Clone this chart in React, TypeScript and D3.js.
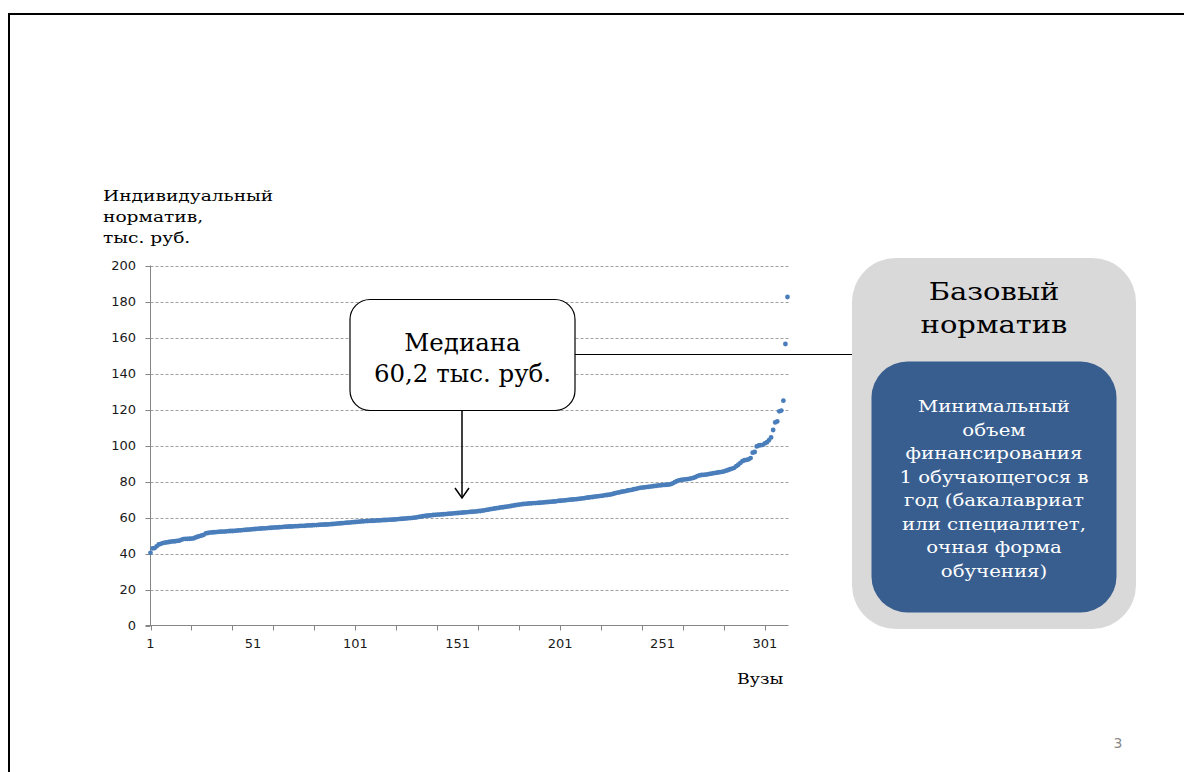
import React from "react";
import * as d3 from "d3";

// Sorted individual normatives (thousand rub.) for 312 universities
const values: number[] = [
  40.4, 42.8, 43.0, 44.0, 45.0, 45.4, 45.8, 46.0, 46.2, 46.4,
  46.6, 46.7, 46.8, 47.0, 47.1, 47.6, 48.0, 48.1, 48.1, 48.2,
  48.3, 48.4, 48.9, 49.3, 49.7, 50.0, 50.4, 51.2, 51.4, 51.6,
  51.7, 51.8, 51.9, 52.0, 52.1, 52.2, 52.2, 52.3, 52.4, 52.5,
  52.5, 52.6, 52.7, 52.8, 52.9, 53.0, 53.1, 53.2, 53.3, 53.4,
  53.5, 53.6, 53.7, 53.8, 53.9, 54.0, 54.0, 54.1, 54.2, 54.3,
  54.4, 54.5, 54.5, 54.6, 54.7, 54.8, 54.9, 54.9, 55.0, 55.0,
  55.1, 55.2, 55.2, 55.3, 55.4, 55.4, 55.5, 55.6, 55.6, 55.7,
  55.8, 55.8, 55.9, 56.0, 56.0, 56.1, 56.1, 56.2, 56.3, 56.4,
  56.5, 56.6, 56.7, 56.8, 56.9, 57.0, 57.1, 57.2, 57.3, 57.4,
  57.5, 57.6, 57.7, 57.8, 57.9, 58.0, 58.0, 58.1, 58.2, 58.2,
  58.3, 58.4, 58.4, 58.5, 58.6, 58.6, 58.7, 58.8, 58.8, 58.9,
  59.0, 59.1, 59.2, 59.3, 59.4, 59.5, 59.6, 59.7, 59.8, 59.9,
  60.1, 60.3, 60.5, 60.7, 60.9, 61.0, 61.1, 61.2, 61.4, 61.5,
  61.6, 61.6, 61.7, 61.8, 61.9, 62.0, 62.1, 62.2, 62.3, 62.4,
  62.5, 62.6, 62.7, 62.8, 62.9, 63.0, 63.1, 63.2, 63.3, 63.4,
  63.5, 63.6, 63.8, 64.0, 64.2, 64.4, 64.6, 64.8, 65.0, 65.2,
  65.4, 65.6, 65.7, 65.9, 66.0, 66.2, 66.4, 66.6, 66.8, 67.0,
  67.2, 67.3, 67.5, 67.6, 67.7, 67.8, 67.9, 68.0, 68.0, 68.1,
  68.2, 68.3, 68.4, 68.5, 68.6, 68.7, 68.8, 68.9, 69.0, 69.2,
  69.3, 69.4, 69.5, 69.6, 69.8, 69.9, 70.0, 70.1, 70.2, 70.3,
  70.5, 70.6, 70.8, 71.0, 71.1, 71.3, 71.4, 71.6, 71.7, 71.9,
  72.0, 72.2, 72.4, 72.5, 72.7, 72.9, 73.2, 73.5, 73.8, 74.0,
  74.3, 74.5, 74.7, 75.0, 75.2, 75.4, 75.7, 75.9, 76.2, 76.5,
  76.6, 76.7, 76.9, 77.0, 77.2, 77.3, 77.5, 77.6, 77.8, 77.9,
  78.0, 78.1, 78.2, 78.3, 78.5, 79.0, 79.6, 80.2, 80.6, 80.9,
  81.0, 81.2, 81.3, 81.5, 81.7, 82.0, 82.4, 83.0, 83.4, 83.6,
  83.7, 83.8, 84.0, 84.2, 84.4, 84.6, 84.8, 85.0, 85.2, 85.4,
  85.6, 86.0, 86.4, 86.8, 87.2, 87.6, 88.5, 89.3, 90.3, 91.3,
  91.8, 92.0, 92.3, 93.0, 96.0, 96.4, 99.5, 100.0, 100.2, 100.4,
  101.2, 101.8, 103.0, 104.5, 108.6, 112.8, 113.4, 119.0, 119.4, 124.9,
  156.4, 182.5,
];

const yTicks: number[] = [0, 20, 40, 60, 80, 100, 120, 140, 160, 180, 200];
const xLabels: number[] = [1, 51, 101, 151, 201, 251, 301];
const xTickMarks: number[] = [1, 21, 41, 61, 81, 101, 121, 141, 161, 181, 201, 221, 241, 261, 281, 301];

const yTitle: string[] = ["Индивидуальный", "норматив,", "тыс. руб."];
const xTitle = "Вузы";
const medianLines: string[] = ["Медиана", "60,2 тыс. руб."];
const baseTitle: string[] = ["Базовый", "норматив"];
const baseText: string[] = [
  "Минимальный",
  "объем",
  "финансирования",
  "1 обучающегося в",
  "год (бакалавриат",
  "или специалитет,",
  "очная форма",
  "обучения)",
];
const pageNumber = "3";

const SERIF = "'DejaVu Serif', serif";
const SANS = "'DejaVu Sans', sans-serif";

export default function App() {
  const x = d3.scaleLinear().domain([1, 312.5]).range([150.5, 788.5]);
  const y = d3.scaleLinear().domain([0, 200]).range([625.5, 265.5]);
  const axisColor = "#868686";

  return (
    <svg
      width={1184}
      height={772}
      style={{ position: "absolute", left: 0, top: 0, background: "#fff" }}
    >
      {/* slide border */}
      <line x1={8} y1={14} x2={1184} y2={14} stroke="#000" strokeWidth={2} />
      <line x1={9} y1={13} x2={9} y2={772} stroke="#000" strokeWidth={2} />

      {/* gridlines */}
      {yTicks.filter((t) => t > 0).map((t) => (
        <line
          key={"g" + t}
          x1={x(1)}
          x2={x(312.5)}
          y1={Math.round(y(t)) + 0.5}
          y2={Math.round(y(t)) + 0.5}
          stroke="#a0a0a0"
          strokeWidth={1}
          strokeDasharray="3,2"
        />
      ))}

      {/* y axis */}
      <line x1={x(1)} x2={x(1)} y1={y(200)} y2={y(0)} stroke={axisColor} strokeWidth={1} />
      {yTicks.map((t) => (
        <g key={"yt" + t}>
          <line
            x1={x(1) - 5}
            x2={x(1)}
            y1={Math.round(y(t)) + 0.5}
            y2={Math.round(y(t)) + 0.5}
            stroke={axisColor}
          />
          <text
            x={136}
            y={y(t) + 4.5}
            textAnchor="end"
            fontFamily={SANS}
            fontSize={13}
            fill="#1a1a1a"
          >
            {t}
          </text>
        </g>
      ))}

      {/* x axis */}
      <line x1={x(1) - 5} x2={x(312.5)} y1={y(0)} y2={y(0)} stroke={axisColor} strokeWidth={1} />
      {xTickMarks.map((t) => (
        <line
          key={"xt" + t}
          x1={Math.round(x(t)) + 0.5}
          x2={Math.round(x(t)) + 0.5}
          y1={y(0)}
          y2={y(0) + 5}
          stroke={axisColor}
        />
      ))}
      {xLabels.map((t) => (
        <text
          key={"xl" + t}
          x={x(t)}
          y={648}
          textAnchor="middle"
          fontFamily={SANS}
          fontSize={13}
          fill="#1a1a1a"
        >
          {t}
        </text>
      ))}

      {/* points */}
      {values.map((v, i) => (
        <circle key={"p" + i} cx={x(i + 1)} cy={y(v)} r={2.4} fill="#4a7ebb" />
      ))}

      {/* axis titles */}
      {yTitle.map((s, i) => (
        <text
          key={"yti" + i}
          transform={`translate(103,${201 + i * 21}) scale(1.2,1)`}
          fontFamily={SERIF}
          fontSize={15.5}
          fill="#000"
        >
          {s}
        </text>
      ))}
      <text transform="translate(737,684) scale(1.12,1)" fontFamily={SERIF} fontSize={15.5} fill="#000">
        {xTitle}
      </text>

      {/* median callout */}
      <line x1={575} y1={354.5} x2={853} y2={354.5} stroke="#000" strokeWidth={1.2} />
      <rect x={350} y={299.5} width={225} height={111} rx={20} ry={20} fill="#fff" stroke="#000" strokeWidth={1.2} />
      {medianLines.map((s, i) => (
        <text
          key={"m" + i}
          transform={`translate(462.5,${351 + i * 30.5}) scale(1.02,1)`}
          textAnchor="middle"
          fontFamily={SERIF}
          fontSize={24}
          fill="#000"
        >
          {s}
        </text>
      ))}
      <line x1={462} y1={411} x2={462} y2={498} stroke="#000" strokeWidth={1.5} />
      <polyline points="455,488 462,498 469,488" fill="none" stroke="#000" strokeWidth={1.5} />

      {/* base normative */}
      <rect x={852} y={258} width={284} height={371} rx={44} ry={44} fill="#d9d9d9" />
      {baseTitle.map((s, i) => (
        <text
          key={"b" + i}
          transform={`translate(994,${300 + i * 33.3}) scale(1.16,1)`}
          textAnchor="middle"
          fontFamily={SERIF}
          fontSize={25}
          fill="#000"
        >
          {s}
        </text>
      ))}
      <rect x={871.5} y={361.5} width={245} height={251} rx={36} ry={36} fill="#385e8f" />
      {baseText.map((s, i) => (
        <text
          key={"bt" + i}
          transform={`translate(994,${412 + i * 23.5}) scale(1.16,1)`}
          textAnchor="middle"
          fontFamily={SERIF}
          fontSize={17}
          fill="#fff"
        >
          {s}
        </text>
      ))}

      {/* page number */}
      <text x={1118} y={748} textAnchor="middle" fontFamily={SANS} fontSize={14} fill="#8a8a8a">
        {pageNumber}
      </text>
    </svg>
  );
}
